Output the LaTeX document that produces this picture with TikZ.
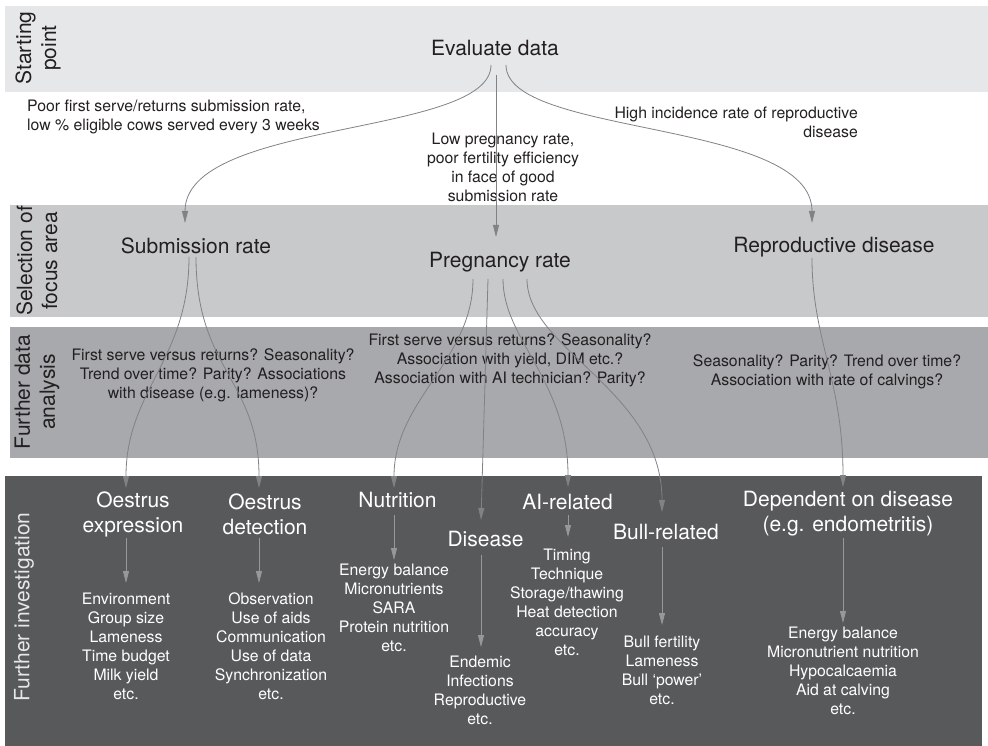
\documentclass[tikz,border=0pt]{standalone}
\usepackage{fontspec}
\setmainfont{TeX Gyre Heros}
\usepackage{xcolor}
\usepackage{tikz}
\usetikzlibrary{arrows.meta, positioning, calc}
\definecolor{bandstart}{RGB}{230,231,232}
\definecolor{bandselect}{RGB}{200,201,203}
\definecolor{bandanalysis}{RGB}{167,169,172}
\definecolor{bandinvest}{RGB}{88,89,91}
\definecolor{inkdark}{RGB}{35,31,32}
\definecolor{linkgrey}{RGB}{128,130,133}
\definecolor{linklight}{RGB}{150,152,155}
\newcommand{\bigtext}{\fontsize{21}{25}\selectfont}
\newcommand{\smalltext}{\fontsize{15.8}{19}\selectfont}

\begin{document}
\begin{tikzpicture}[x=1pt, y=-1pt,
  heading/.style={inner sep=0pt, align=center, font=\bigtext, text=inkdark},
  note/.style={inner sep=0pt, align=center, font=\smalltext, text=inkdark},
  bandlabel/.style={heading, rotate=90},
  link/.style={draw=linkgrey, line width=0.8pt, -{Triangle[length=12pt, width=6pt]}},
  sublink/.style={link, draw=linklight, fill=linklight}]
  \useasboundingbox (0,0) rectangle (988,746);
  % bands
  \fill[bandstart] (5,6) rectangle (988,92);
  \fill[bandselect] (10,205) rectangle (988,317);
  \fill[bandanalysis] (10,327) rectangle (988,458);
  \fill[bandinvest] (5,476) rectangle (982,746);
  \node[bandlabel] (lstart) at (38,48) {Starting\\point};
  \node[bandlabel] (lselect) at (37,261) {Selection of\\focus area};
  \node[bandlabel] (lanalysis) at (37,392) {Further data\\analysis};
  \node[bandlabel, text=bandstart] (linvest) at (24,607) {Further investigation};

  % starting point
  \node[heading] (eval) at (495,48) {Evaluate data};
  \node[note, align=left, anchor=west] (noteL) at (27,117)
    {Poor first serve/returns submission rate,\\low \% eligible cows served every 3 weeks};
  \node[note] (noteM) at (503,167)
    {Low pregnancy rate,\\poor fertility efficiency\\in face of good\\submission rate};
  \node[note, align=right, anchor=east] (noteR) at (858,122)
    {High incidence rate of reproductive\\disease};

  % focus areas
  \node[heading] (subm) at (196,246) {Submission rate};
  \node[heading] (preg) at (500,262) {Pregnancy rate};
  \node[heading] (repd) at (834,247) {Reproductive disease};

  \draw[link] ($(eval)+(-4,17)$) .. controls +(0,72) and +(0,-104) .. ($(subm)+(-11,-23)$);
  \draw[link] ($(eval)+(1,27)$) -- ($(preg)+(-4,-25)$);
  \draw[link] ($(eval)+(11,17)$) .. controls +(0,72) and +(0,-104) .. ($(repd)+(-22,-24)$);

  % further data analysis
  \node[note] (qsubm) at (213,375) {First serve versus returns? Seasonality?\\Trend over time? Parity? Associations\\with disease (e.g. lameness)?};
  \node[note] (qpreg) at (510,360) {First serve versus returns? Seasonality?\\Association with yield, DIM etc.?\\Association with AI technician? Parity?};
  \node[note] (qrepd) at (827,372) {Seasonality? Parity? Trend over time?\\Association with rate of calvings?};

  % further investigation
  \node[heading, text=white] (oexp) at (133,514) {Oestrus\\expression};
  \node[heading, text=white] (odet) at (265,514) {Oestrus\\detection};
  \node[heading, text=white] (nutr) at (397.5,500) {Nutrition};
  \node[heading, text=white] (dis) at (485.5,539) {Disease};
  \node[heading, text=white] (ai) at (567.5,502) {AI-related};
  \node[heading, text=white] (bull) at (666,532) {Bull-related};
  \node[heading, text=white] (dep) at (848,514) {Dependent on disease\\(e.g. endometritis)};

  \node[note, text=white] (oexplist) at (126,646) {Environment\\Group size\\Lameness\\Time budget\\Milk yield\\etc.};
  \node[note, text=white] (odetlist) at (271,646) {Observation\\Use of aids\\Communication\\Use of data\\Synchronization\\etc.};
  \node[note, text=white] (nutrlist) at (394,607.5) {Energy balance\\Micronutrients\\SARA\\Protein nutrition\\etc.};
  \node[note, text=white] (dislist) at (480,690.5) {Endemic\\Infections\\Reproductive\\etc.};
  \node[note, text=white] (ailist) at (567,602.5) {Timing\\Technique\\Storage/thawing\\Heat detection\\accuracy\\etc.};
  \node[note, text=white] (bulllist) at (662,670) {Bull fertility\\Lameness\\Bull `power'\\etc.};
  \node[note, text=white] (deplist) at (843,670.5) {Energy balance\\Micronutrient nutrition\\Hypocalcaemia\\Aid at calving\\etc.};

  % links down to the investigation areas
  \draw[link] ($(subm)+(-7,11)$) .. controls +(0,103) and +(0,-98) .. ($(oexp)+(-7,-26)$);
  \draw[link] ($(subm)+(0,11)$) .. controls +(0,113) and +(0,-108) .. ($(odet)+(-6,-26)$);
  \draw[link] ($(preg)+(-27,17)$) .. controls +(0,81) and +(0,-88) .. ($(nutr)+(-3.5,-12)$);
  \draw[link] ($(preg)+(-12,17)$) -- ($(dis)+(-4.5,-19)$);
  \draw[link] ($(preg)+(3,17)$) .. controls +(0,61) and +(0,-107) .. ($(ai)+(0.5,-15)$);
  \draw[link] ($(preg)+(27,17)$) .. controls +(0,71) and +(0,-122) .. ($(bull)+(-4,-20)$);
  \draw[link] ($(repd)+(-22,11)$) .. controls +(0,82) and +(0,-107) .. ($(dep)+(-5,-27)$);

  \draw[sublink] ($(oexp)+(-7,24)$) -- ($(oexplist)+(0,-63)$);
  \draw[sublink] ($(odet)+(-6,24)$) -- ($(odetlist)+(-12,-63)$);
  \draw[sublink] ($(nutr)+(-3.5,15)$) -- ($(nutrlist)+(0,-47.5)$);
  \draw[sublink] ($(dis)+(-4.5,16)$) -- ($(dislist)+(1,-43.5)$);
  \draw[sublink] ($(ai)+(0.5,13)$) -- ($(ailist)+(1,-65.5)$);
  \draw[sublink] ($(bull)+(-4,15)$) -- ($(bulllist)+(0,-45)$);
  \draw[sublink] ($(dep)+(-5,24)$) -- ($(deplist)+(0,-47.5)$);
\end{tikzpicture}
\end{document}
